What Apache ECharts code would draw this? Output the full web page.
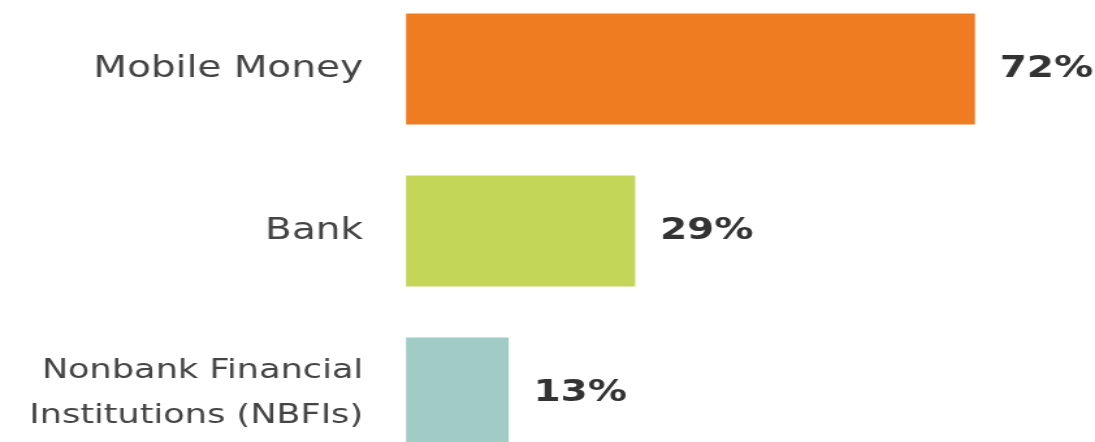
<!DOCTYPE html>
<html>
<head>
<meta charset="utf-8">
<script src="https://cdn.jsdelivr.net/npm/echarts@6/dist/echarts.min.js"></script>
<style>
html,body{margin:0;padding:0;background:#fff;overflow:hidden;width:1095px;height:442px;}
#wrap{position:relative;width:1095px;height:442px;overflow:hidden;}
#c{position:absolute;left:0;top:-12px;width:842px;height:486px;transform:scaleX(1.3005);transform-origin:0 0;}
</style>
</head>
<body>
<div id="wrap"><div id="c"></div></div>
<script>
const categories = ['Mobile Money', 'Bank', 'Nonbank Financial\nInstitutions (NBFIs)'];
const values = [72, 29, 13];
const colors = ['#F07C22', '#C4D657', '#A0CCC5'];

const chart = echarts.init(document.getElementById('c'));
chart.setOption({
  animation: false,
  backgroundColor: '#ffffff',
  grid: { left: 312.2, right: 43.7, top: 0, bottom: 0, containLabel: false, outerBoundsMode: 'none' },
  xAxis: {
    type: 'value', min: 0, max: 80, show: false
  },
  yAxis: {
    type: 'category', data: categories, inverse: true,
    axisLine: { show: false }, axisTick: { show: false },
    axisLabel: {
      margin: 33, color: '#444444', fontFamily: 'DejaVu Sans', fontSize: 30,
      lineHeight: 45, align: 'right',
      formatter: function (v) {
        return v.indexOf('\n') >= 0
          ? v.split('\n').map(function (l) { return '{s|' + l + '}'; }).join('\n')
          : v;
      },
      rich: {
        s: { fontSize: 27, lineHeight: 45, fontFamily: 'DejaVu Sans', color: '#444444', align: 'right' }
      }
    }
  },
  series: [{
    type: 'bar',
    barWidth: 111,
    data: values.map((v, i) => ({ value: v, itemStyle: { color: colors[i] } })),
    label: {
      show: true, position: 'right', distance: 19,
      formatter: '{c}%', color: '#333333', fontFamily: 'DejaVu Sans',
      fontWeight: 'bold', fontSize: 30
    }
  }]
});
</script>
</body>
</html>
